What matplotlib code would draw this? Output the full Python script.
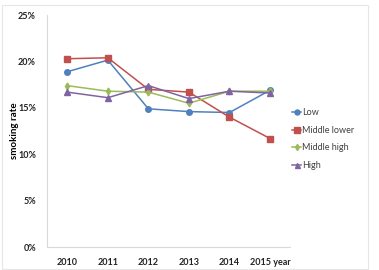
import matplotlib.pyplot as plt
from matplotlib.patches import Rectangle

years = ['2010', '2011', '2012', '2013', '2014', '2015 year']
low = [18.9, 20.15, 14.9, 14.6, 14.5, 16.9]
middle_lower = [20.3, 20.4, 17.0, 16.7, 14.0, 11.7]
middle_high = [17.4, 16.8, 16.7, 15.5, 16.8, 16.8]
high = [16.7, 16.1, 17.4, 16.0, 16.8, 16.6]
yticks = [0, 5, 10, 15, 20, 25]

plt.rcParams['font.family'] = ['Lato', 'DejaVu Sans']

fig = plt.figure(figsize=(3.79, 2.70), dpi=100)
fig.patches.append(Rectangle((0.005, 0.005), 0.965, 0.975, transform=fig.transFigure,
                             fill=False, edgecolor='#e6e6e6', lw=0.8))
ax = fig.add_axes([0.124, 0.085, 0.642, 0.859])

x = range(len(years))
ax.plot(x, low, color='#4F81BD', marker='o', ms=4, lw=1.1, label='Low')
ax.plot(x, middle_lower, color='#C0504D', marker='s', ms=4.5, lw=1.1, label='Middle lower')
ax.plot(x, middle_high, color='#9BBB59', marker='d', ms=3.5, lw=1.1, label='Middle high')
ax.plot(x, high, color='#8064A2', marker='^', ms=4, lw=1.1, label='High')

ax.set_xlim(-0.5, len(years) - 0.5)
ax.set_ylim(0, 25)
ax.set_xticks(list(x))
ax.set_xticklabels(years, fontsize=6.5, fontweight='bold', color='#222222')
ax.set_yticks(yticks)
ax.set_yticklabels([f'{v}%' for v in yticks], fontsize=6.5, fontweight='bold', color='#222222')
ax.tick_params(length=0, pad=8)
ax.set_ylabel('smoking rate', fontsize=7, fontweight='bold')
ax.yaxis.set_label_coords(-0.115, 0.5)

for s in ['top', 'right']:
    ax.spines[s].set_visible(False)
for s in ['left', 'bottom']:
    ax.spines[s].set_color('#d9d9d9')
    ax.spines[s].set_linewidth(0.8)

ax.legend(loc='center left', bbox_to_anchor=(0.975, 0.465), frameon=False,
          fontsize=6.5, handlelength=1.0, handletextpad=0.1, labelspacing=0.95,
          markerscale=0.9, labelcolor='#404040')

fig.savefig('out.png', dpi=100)
